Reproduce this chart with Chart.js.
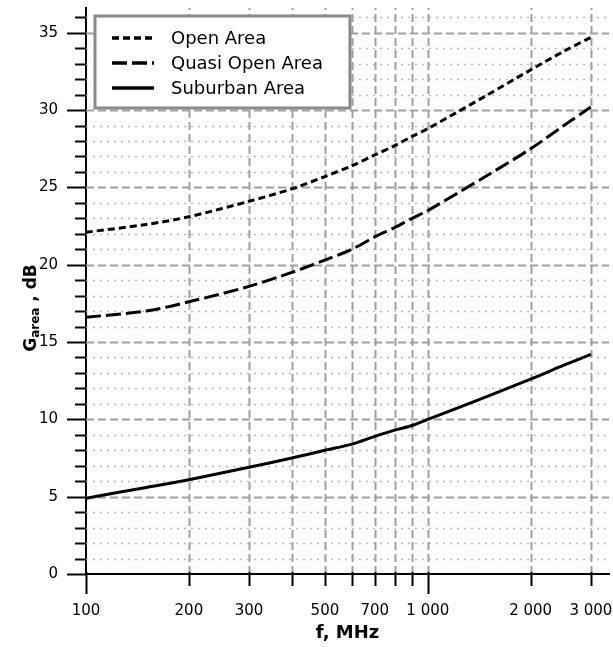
<!DOCTYPE html>
<html>
<head>
<meta charset="utf-8">
<script src="https://cdn.jsdelivr.net/npm/chart.js@4"></script>
<style>
	html, body { margin: 0; padding: 0; background: #fff; }
	#wrap { width: 613px; height: 647px; }
</style>
</head>
<body>
<div id="wrap"><canvas id="chart"></canvas></div>
<script>
// frequency, MHz
const freqs = [100, 150, 200, 300, 400, 500, 600, 700, 800, 900, 1000, 1500, 2000, 2500, 3000];
// G area, dB
const openArea = [22.1, 22.6, 23.1, 24.1, 24.9, 25.7, 26.4, 27.1, 27.7, 28.3, 28.8, 31.0, 32.6, 33.8, 34.7];
const quasiOpenArea = [16.6, 17.0, 17.6, 18.6, 19.5, 20.3, 21.0, 21.8, 22.4, 23.0, 23.5, 25.8, 27.5, 29.0, 30.2];
const suburbanArea = [4.9, 5.6, 6.1, 6.9, 7.5, 8.0, 8.4, 8.9, 9.3, 9.6, 10.0, 11.5, 12.6, 13.5, 14.2];

const seriesNames = ['Open Area', 'Quasi Open Area', 'Suburban Area'];

const xTickValues = [100, 200, 300, 400, 500, 600, 700, 800, 900, 1000, 2000, 3000];
const xTickLabels = {100: '100', 200: '200', 300: '300', 500: '500', 700: '700', 1000: '1 000', 2000: '2 000', 3000: '3 000'};
const yTickValues = [];
for (let v = 0; v <= 36; v++) yTickValues.push(v);

const FONT = '"DejaVu Sans", Verdana, sans-serif';

function points(ys) {
	return freqs.map((f, i) => ({x: f, y: ys[i]}));
}

const dashes = [[7, 4], [15, 5], []];

// grid lines + tick marks
const gridPlugin = {
	id: 'gridPlugin',
	beforeDatasetsDraw(chart) {
		const c = chart.ctx, a = chart.chartArea;
		const xs = chart.scales.x, ys = chart.scales.y;
		c.save();
		c.lineCap = 'butt';
		// horizontal
		yTickValues.forEach(v => {
			if (v === 0) return;
			const y = Math.round(ys.getPixelForValue(v)) + 0.5;
			c.beginPath();
			if (v % 5 === 0) {
				c.strokeStyle = '#a0a0a0'; c.lineWidth = 2; c.setLineDash([8, 4]);
			} else {
				c.strokeStyle = '#b8b8b8'; c.lineWidth = 1.5; c.setLineDash([2, 5]);
			}
			c.moveTo(a.left, y); c.lineTo(a.right, y); c.stroke();
		});
		// vertical
		xTickValues.forEach(v => {
			if (v === 100) return;
			const x = Math.round(xs.getPixelForValue(v)) + 0.5;
			c.beginPath();
			c.strokeStyle = '#a0a0a0'; c.lineWidth = 2; c.setLineDash([8, 4]);
			c.moveTo(x, a.bottom); c.lineTo(x, a.top); c.stroke();
		});
		c.setLineDash([]);
		c.strokeStyle = '#000';
		c.lineWidth = 2;
		// y tick marks
		yTickValues.forEach(v => {
			const y = Math.round(ys.getPixelForValue(v)) + 0.5;
			const len = v % 5 === 0 ? 19 : 11;
			c.beginPath(); c.moveTo(a.left - len, y); c.lineTo(a.left, y); c.stroke();
		});
		// x tick marks
		xTickValues.forEach(v => {
			const x = Math.round(xs.getPixelForValue(v)) + 0.5;
			const len = (v === 100 || v === 1000) ? 20 : 12;
			c.beginPath(); c.moveTo(x, a.bottom - 2); c.lineTo(x, a.bottom + len); c.stroke();
		});
		c.restore();
	}
};

// legend box inside the plot
const legendPlugin = {
	id: 'boxLegend',
	afterDatasetsDraw(chart) {
		const c = chart.ctx;
		c.save();
		c.fillStyle = '#fff';
		c.fillRect(94, 15, 257, 94);
		c.strokeStyle = '#8a8a8a';
		c.lineWidth = 3;
		c.strokeRect(95, 16, 255, 92);
		chart.data.datasets.forEach((ds, i) => {
			const y = 38 + i * 25;
			c.beginPath();
			c.strokeStyle = '#000';
			c.lineWidth = 3.5;
			c.setLineDash(ds.borderDash);
			c.moveTo(112, y); c.lineTo(154, y); c.stroke();
			c.setLineDash([]);
			c.fillStyle = '#000';
			c.font = '18px ' + FONT;
			c.textBaseline = 'middle';
			c.fillText(ds.label, 171, y + 1);
		});
		c.restore();
	}
};

// y title with subscript
const yTitlePlugin = {
	id: 'yTitle',
	afterDraw(chart) {
		const c = chart.ctx;
		const big = 'bold 17px ' + FONT, small = 'bold 12px ' + FONT;
		c.save();
		c.fillStyle = '#000';
		c.textBaseline = 'alphabetic';
		c.font = big; const wG = c.measureText('G').width;
		c.font = small; const wA = c.measureText('area').width;
		c.font = big; const wR = c.measureText(' , dB').width;
		const total = wG + wA + wR;
		c.translate(36, 308);
		c.rotate(-Math.PI / 2);
		let x = -total / 2;
		c.font = big; c.fillText('G', x, 0); x += wG;
		c.font = small; c.fillText('area', x, 3); x += wA;
		c.font = big; c.fillText(' , dB', x, 0);
		c.restore();
	}
};

new Chart(document.getElementById('chart'), {
	type: 'line',
	data: {
		datasets: [{
				label: seriesNames[0],
				data: points(openArea),
				borderDash: dashes[0]
			},
			{
				label: seriesNames[1],
				data: points(quasiOpenArea),
				borderDash: dashes[1]
			},
			{
				label: seriesNames[2],
				data: points(suburbanArea),
				borderDash: dashes[2]
			}
		].map(d => Object.assign(d, {
			borderColor: '#000',
			borderWidth: 3,
			pointRadius: 0,
			tension: 0.3,
			fill: false
		}))
	},
	options: {
		responsive: true,
		maintainAspectRatio: false,
		animation: false,
		layout: {
			padding: {top: 8, right: 4, left: 0, bottom: 0}
		},
		scales: {
			x: {
				type: 'logarithmic',
				min: 100,
				max: 3390,
				afterBuildTicks: s => { s.ticks = xTickValues.map(v => ({value: v})); },
				afterFit: s => { s.height = 73; s.paddingLeft = 0; s.paddingRight = 0; },
				ticks: {
					autoSkip: false,
					maxRotation: 0,
					padding: 28,
					color: '#000',
					font: {family: FONT, size: 15},
					callback: v => xTickLabels[v] || ''
				},
				grid: {display: false, drawTicks: false},
				border: {display: true, color: '#000', width: 2},
				title: {
					display: true,
					text: 'f, MHz',
					color: '#000',
					font: {family: FONT, size: 18, weight: 'bold'},
					padding: {top: 0, bottom: 3}
				}
			},
			y: {
				min: 0,
				max: 36.6,
				afterBuildTicks: s => { s.ticks = yTickValues.map(v => ({value: v})); },
				afterFit: s => { s.width = 86; s.paddingTop = 0; s.paddingBottom = 0; },
				ticks: {
					autoSkip: false,
					padding: 28,
					color: '#000',
					font: {family: FONT, size: 15},
					callback: v => (v % 5 === 0 ? v : '')
				},
				grid: {display: false, drawTicks: false},
				border: {display: true, color: '#000', width: 2}
			}
		},
		plugins: {
			legend: {display: false},
			tooltip: {enabled: false}
		}
	},
	plugins: [gridPlugin, legendPlugin, yTitlePlugin]
});
</script>
</body>
</html>
